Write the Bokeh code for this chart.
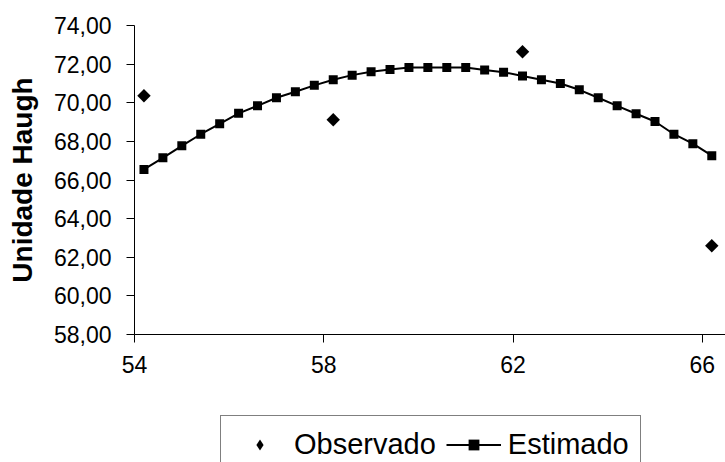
import math
from bokeh.plotting import figure
from bokeh.layouts import column
from bokeh.models import Range1d, FixedTicker, CustomJSTickFormatter, Legend, LegendItem
from bokeh.embed import file_html
from bokeh.resources import INLINE

# Data
obs_x = [54.2, 58.2, 62.2, 66.2]
obs_y = [70.36, 69.12, 72.64, 62.60]

est_x = [54.2, 54.6, 55.0, 55.4, 55.8, 56.2, 56.6, 57.0, 57.4, 57.8, 58.2,
         58.6, 59.0, 59.4, 59.8, 60.2, 60.6, 61.0, 61.4, 61.8, 62.2, 62.6,
         63.0, 63.4, 63.8, 64.2, 64.6, 65.0, 65.4, 65.8, 66.2]
est_y = [66.55, 67.15, 67.77, 68.37, 68.91, 69.45, 69.84, 70.26, 70.57, 70.90,
         71.19, 71.43, 71.60, 71.72, 71.82, 71.82, 71.82, 71.82, 71.70, 71.58,
         71.39, 71.19, 71.00, 70.67, 70.26, 69.84, 69.43, 69.03, 68.37, 67.88,
         67.26]

x_ticks = [54, 58, 62, 66]
y_ticks = [58, 60, 62, 64, 66, 68, 70, 72, 74]
series_names = ["Observado", "Estimado"]

FONT = "Liberation Sans"

p = figure(width=725, height=400, output_backend="svg", toolbar_location=None,
           x_range=Range1d(54, 66.49), y_range=Range1d(58, 74),
           min_border_left=134, min_border_right=0, min_border_top=25,
           min_border_bottom=66)
p.outline_line_color = None
p.xgrid.visible = False
p.ygrid.visible = False

for ax in (p.xaxis[0], p.yaxis[0]):
    ax.axis_line_color = "black"
    ax.axis_line_width = 1
    ax.major_tick_line_color = "black"
    ax.major_tick_in = 0
    ax.major_tick_out = 8
    ax.minor_tick_line_color = None
    ax.major_label_text_font = FONT
    ax.major_label_text_font_size = "23px"
    ax.major_label_text_color = "black"

p.xaxis[0].ticker = FixedTicker(ticks=x_ticks)
p.xaxis[0].major_label_standoff = 13
p.yaxis[0].ticker = FixedTicker(ticks=y_ticks)
p.yaxis[0].major_label_standoff = 15
p.yaxis[0].formatter = CustomJSTickFormatter(code="return tick.toFixed(2).replace('.', ',');")
p.yaxis[0].axis_label = "Unidade Haugh"
p.yaxis[0].axis_label_text_font = FONT
p.yaxis[0].axis_label_text_font_size = "28px"
p.yaxis[0].axis_label_text_font_style = "bold"
p.yaxis[0].axis_label_text_color = "black"
p.yaxis[0].axis_label_standoff = 13

p.scatter(obs_x, obs_y, marker="square", angle=math.pi / 4, size=9.5,
          fill_color="black", line_color=None)
p.line(est_x, est_y, line_color="black", line_width=2)
p.scatter(est_x, est_y, marker="square", size=9,
          fill_color="black", line_color=None)

# Legend strip below the chart (its own small figure so the legend is not clipped)
lg = figure(width=725, height=62, output_backend="svg", toolbar_location=None,
            x_axis_type=None, y_axis_type=None,
            x_range=Range1d(54, 66.49), y_range=Range1d(58, 74),
            min_border_left=0, min_border_right=0, min_border_top=0,
            min_border_bottom=0)
lg.outline_line_color = None
k_obs = lg.scatter(obs_x[:1], [0], marker="diamond", size=10,
                   fill_color="black", line_color=None)
k_line = lg.line(est_x[:2], [0, 0], line_color="black", line_width=2)
k_est = lg.scatter(est_x[:1], [0], marker="square", size=9,
                   fill_color="black", line_color=None)

legend = Legend(items=[LegendItem(label=series_names[0], renderers=[k_obs]),
                       LegendItem(label=series_names[1], renderers=[k_line, k_est])],
                orientation="horizontal", location=(86, -11),
                glyph_width=55, glyph_height=27, label_height=34,
                label_standoff=7, spacing=10, padding=11, margin=0,
                border_line_color="black", border_line_width=1,
                background_fill_color="white", background_fill_alpha=1.0,
                label_text_font=FONT, label_text_font_size="29px",
                label_text_color="black")
lg.add_layout(legend, "center")

layout = column(p, lg, spacing=0)
open("out.html", "w").write(file_html(layout, INLINE))
